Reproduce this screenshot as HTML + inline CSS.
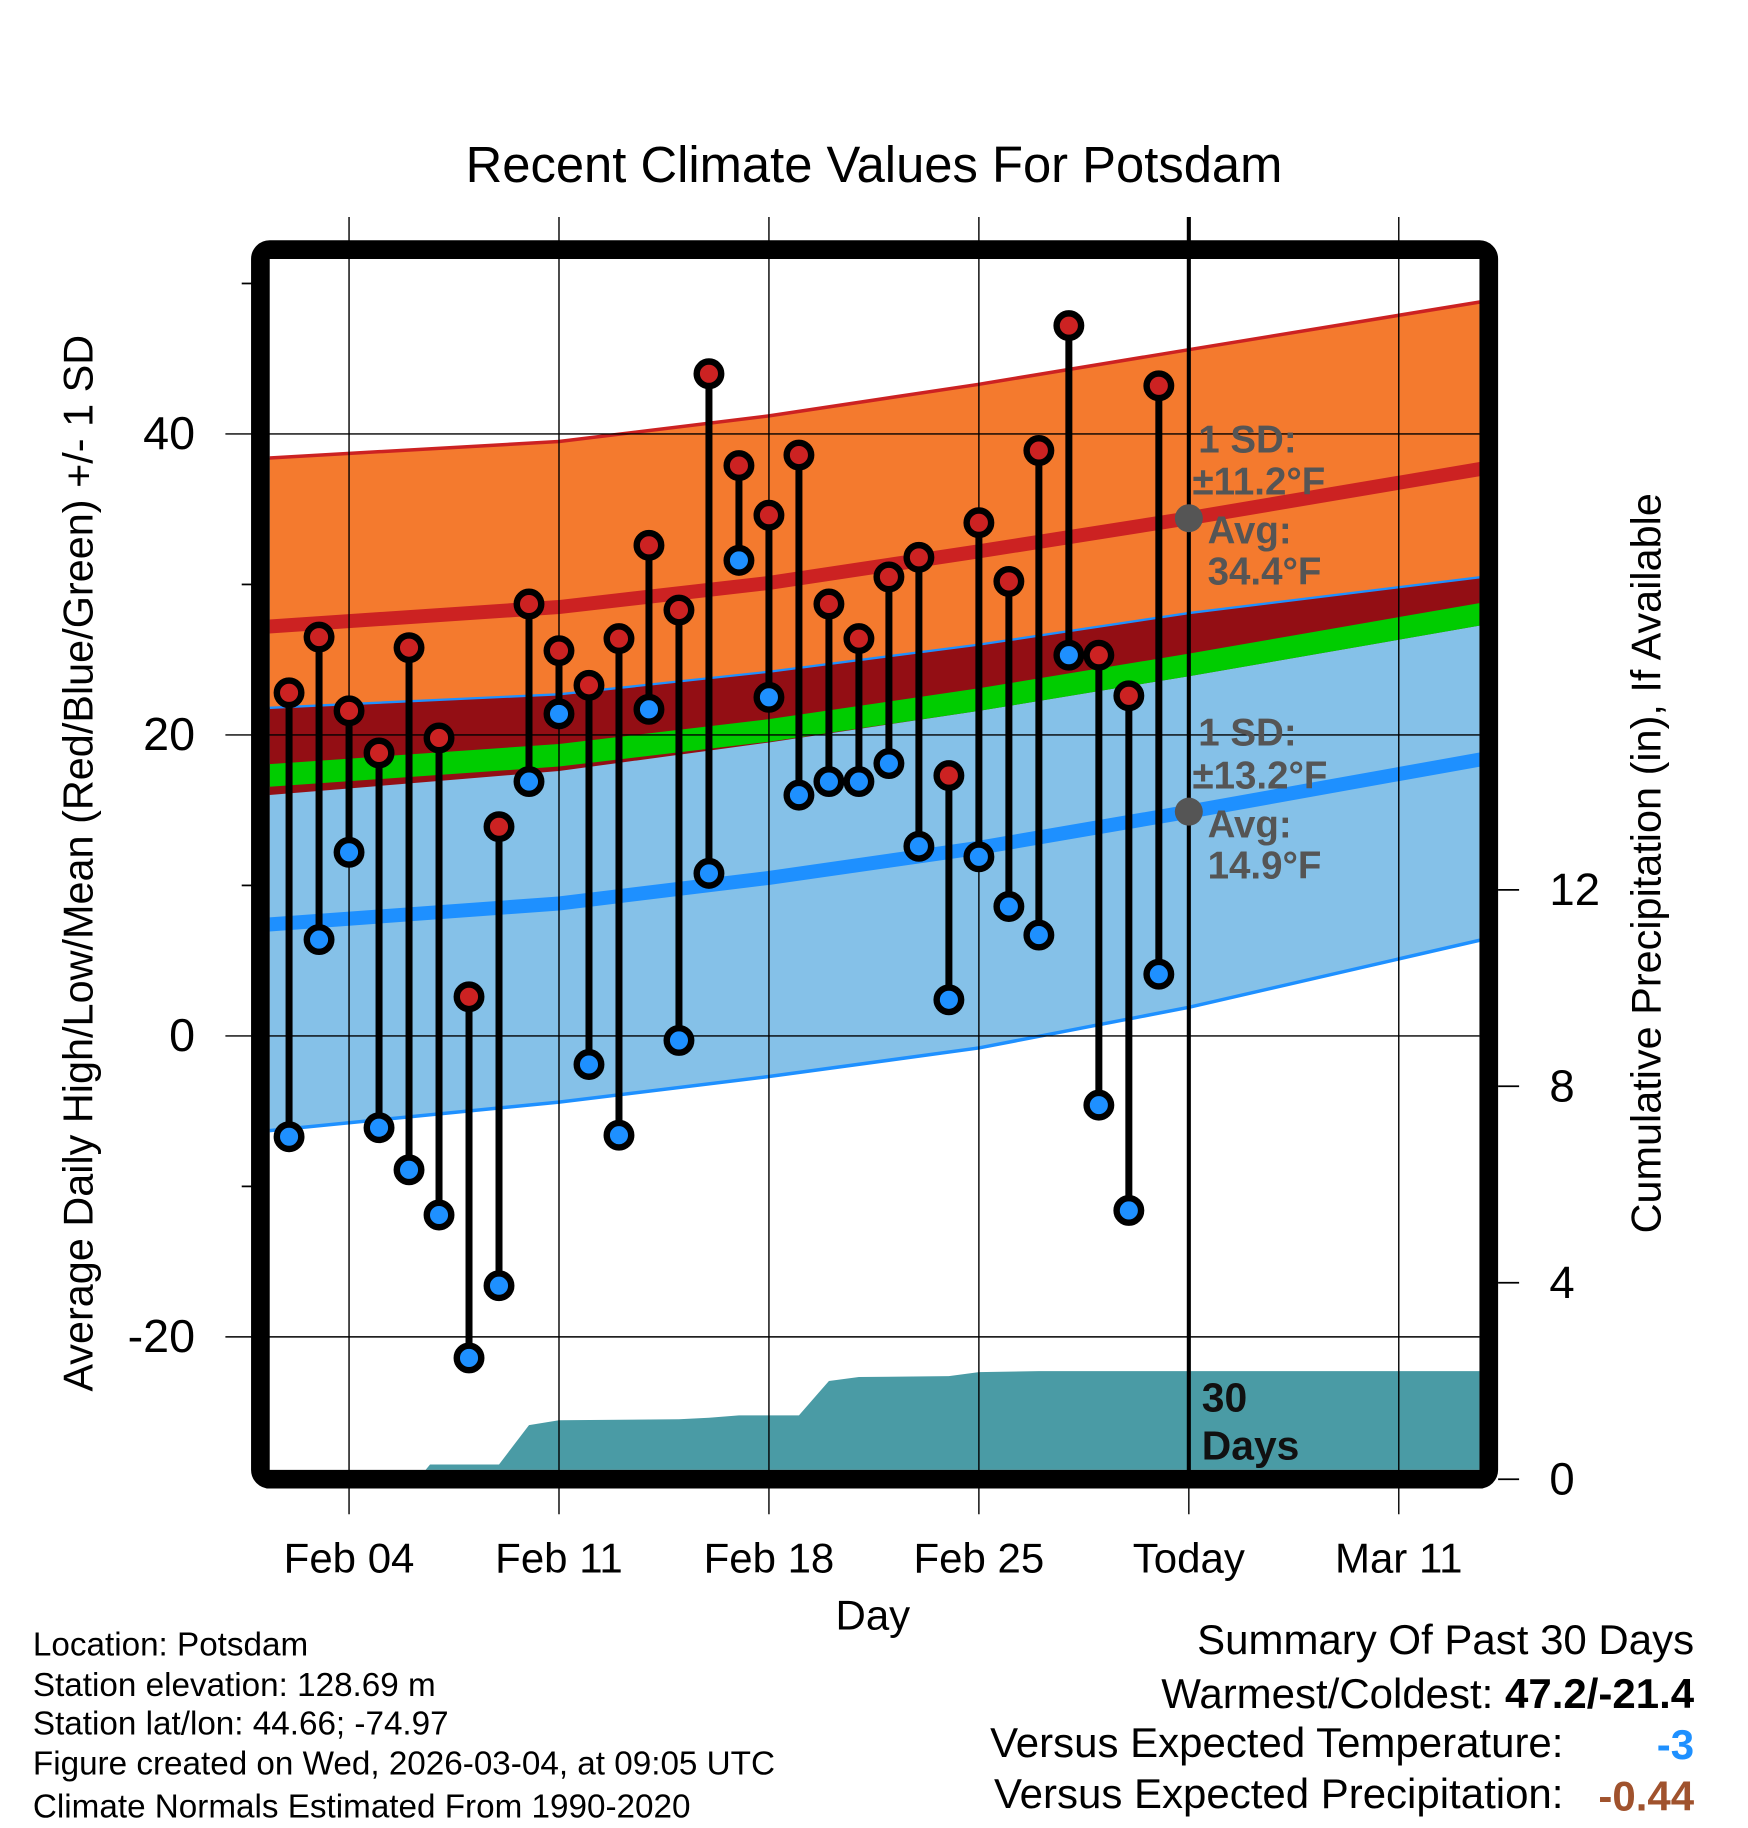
<!DOCTYPE html>
<html><head><meta charset="utf-8"><style>
html,body{margin:0;padding:0;background:#fff}
svg{display:block}
text{font-family:"Liberation Sans",sans-serif}
</style></head><body>
<svg id="chart" width="1748" height="1828" viewBox="0 0 1498 1567" xmlns="http://www.w3.org/2000/svg">
<defs><clipPath id="plotclip"><rect x="231" y="222" width="1037" height="1038"/></clipPath></defs>
<text x="749" y="156" font-size="43.5" text-anchor="middle">Recent Climate Values For Potsdam</text>
<g id="plot" clip-path="url(#plotclip)"></g>
<g id="grid"></g>
<g id="marks" clip-path="url(#plotclip)"></g>
<rect x="223" y="214" width="1053" height="1054" rx="8" fill="none" stroke="#000" stroke-width="16"/>
<g id="axes"></g>
<text transform="translate(79,740) rotate(-90)" font-size="35.5" text-anchor="middle">Average Daily High/Low/Mean (Red/Blue/Green) +/- 1 SD</text>
<text transform="translate(1423,740) rotate(-90)" font-size="35.5" text-anchor="middle">Cumulative Precipitation (in), If Available</text>
<text x="748" y="1397" font-size="36" text-anchor="middle">Day</text>
<g font-size="28.5">
<text x="28" y="1419">Location: Potsdam</text>
<text x="28" y="1454">Station elevation: 128.69 m</text>
<text x="28" y="1487">Station lat/lon: 44.66; -74.97</text>
<text x="28" y="1521">Figure created on Wed, 2026-03-04, at 09:05 UTC</text>
<text x="28" y="1558">Climate Normals Estimated From 1990-2020</text>
</g>
<g font-size="36">
<text x="1452" y="1418" text-anchor="end">Summary Of Past 30 Days</text>
<text x="1452" y="1464" text-anchor="end">Warmest/Coldest: <tspan font-weight="bold">47.2/-21.4</tspan></text>
<text x="1340" y="1506" text-anchor="end">Versus Expected Temperature:</text>
<text x="1452" y="1508" text-anchor="end" font-weight="bold" fill="#1E90FF">-3</text>
<text x="1340" y="1550" text-anchor="end">Versus Expected Precipitation:</text>
<text x="1452" y="1552" text-anchor="end" font-weight="bold" fill="#A0522D">-0.44</text>
</g>
<script>
const normDays=[-2.7,7,14,21,28,37.8];
const hiUp=[38.4,39.5,41.2,43.3,45.6,48.8];
const hiMean=[27.2,28.5,30.1,32.2,34.4,37.7];
const hiLow=[16.0,17.6,19.5,21.6,23.9,27.3];
const loUp=[21.8,22.7,24.2,26.0,28.1,30.5];
const loMean=[7.4,8.8,10.5,12.5,14.9,18.4];
const loLow=[-6.3,-4.4,-2.7,-0.8,1.9,6.4];
const obsDays=[-2,-1,0,1,2,3,4,5,6,7,8,9,10,11,12,13,14,15,16,17,18,19,20,21,22,23,24,25,26,27];
const highs=[22.8,26.5,21.6,18.8,25.8,19.8,2.6,13.9,28.7,25.6,23.3,26.4,32.6,28.3,44.0,37.9,34.6,38.6,28.7,26.4,30.5,31.8,17.3,34.1,30.2,38.9,47.2,25.3,22.6,43.2];
const lows=[-6.7,6.4,12.2,-6.1,-8.9,-11.9,-21.4,-16.6,16.9,21.4,-1.9,-6.6,21.7,-0.3,10.8,31.6,22.5,16.0,16.9,16.9,18.1,12.6,2.4,11.9,8.6,6.7,25.3,-4.6,-11.6,4.1];
const precipDays=[-2.7,2.3,2.7,5,6,7,11,12,13,15,16,17,20,21,23,37.8];
const precip=[0,0,0.3,0.3,1.1,1.2,1.22,1.25,1.3,1.3,2.0,2.08,2.1,2.18,2.2,2.2];
const xTickDays=[0,7,14,21,28,35];
const xTickLabels=["Feb 04","Feb 11","Feb 18","Feb 25","Today","Mar 11"];
const yTicks=[40,20,0,-20];
const yMinor=[50,30,10,-10];
const y2Ticks=[0,4,8,12];
const todayDay=28;
const NS="http://www.w3.org/2000/svg";
const X=d=>299+d*25.71;
const Y=t=>888-t*12.9;
const Y2=p=>1268-p*42.1;
function mk(tag,attrs,parent){const e=document.createElementNS(NS,tag);for(const k in attrs)e.setAttribute(k,attrs[k]);parent.appendChild(e);return e;}
function band(up,lo,fill,name,parent){
  let pts=normDays.map((d,i)=>X(d)+","+Y(up[i]));
  for(let i=normDays.length-1;i>=0;i--)pts.push(X(normDays[i])+","+Y(lo[i]));
  const p=mk('polygon',{points:pts.join(' '),fill:fill},parent);
  
  
}
function line(vals,stroke,w,name,parent){
  const p=mk('polyline',{points:normDays.map((d,i)=>X(d)+","+Y(vals[i])).join(' '),fill:'none',stroke:stroke,'stroke-width':w},parent);
  
  
}
const plot=document.getElementById('plot');
band(hiUp,hiLow,'#F47A2E','high-sd-band',plot);
band(loUp,loLow,'#85C1E8','low-sd-band',plot);
band(loUp,hiLow,'#930E14','overlap-band',plot);
const meanV=hiMean.map((h,i)=>(h+loMean[i])/2);
band(meanV.map(v=>v+0.75),meanV.map(v=>v-0.75),'#00CC00','mean-band',plot);
line(hiUp,'#CC2222',3,'high-upper-sd-line',plot);
line(loUp,'#1E90FF',2,'low-upper-sd-line',plot);
line(loLow,'#1E90FF',3,'low-lower-sd-line',plot);
line(hiMean,'#CC2222',12,'high-mean-line',plot);
line(loMean,'#1E90FF',12,'low-mean-line',plot);
let pp=precipDays.map((d,i)=>X(d)+","+Y2(precip[i]));
pp.push(X(37.8)+",1262",X(-2.7)+",1262");
const pa=mk('polygon',{points:pp.join(' '),fill:'#4A9BA5'},plot);


const grid=document.getElementById('grid');
xTickDays.forEach(d=>{
  const l=mk('line',{x1:X(d),x2:X(d),y1:186,y2:1298,stroke:'#000','stroke-width':1.2},grid);
  
  
});
yTicks.forEach(t=>{
  const l=mk('line',{x1:193,x2:1268,y1:Y(t),y2:Y(t),stroke:'#000','stroke-width':1.2},grid);
  
  
});
const tl=mk('line',{x1:X(todayDay),x2:X(todayDay),y1:186,y2:1262,stroke:'#000','stroke-width':3.5},grid);


const marks=document.getElementById('marks');
obsDays.forEach((d,i)=>{
  const s=mk('line',{x1:X(d),x2:X(d),y1:Y(highs[i]),y2:Y(lows[i]),stroke:'#000','stroke-width':6},marks);
  
  
  const lc=mk('circle',{cx:X(d),cy:Y(lows[i]),r:10.5,fill:'#1E90FF',stroke:'#000','stroke-width':5.5},marks);
  
  
  const hc=mk('circle',{cx:X(d),cy:Y(highs[i]),r:10.5,fill:'#CC2222',stroke:'#000','stroke-width':5.5},marks);
  
  
});
[hiMean[4],loMean[4]].forEach(v=>{
  const c=mk('circle',{cx:X(todayDay),cy:Y(v),r:12,fill:'#555'},marks);
  
  
});
function txt(s,x,y,attrs,parent,name){const t=mk('text',Object.assign({x:x,y:y},attrs),parent);t.textContent=s;return t;}
const ann={fill:'#555','font-size':33,'font-weight':'bold'};
txt('1 SD:',1027,388,ann,marks,'high-sd-label');
txt('±11.2°F',1022,424,ann,marks,'high-sd-value');
txt('Avg:',1035,466,ann,marks,'high-avg-label');
txt('34.4°F',1035,501,ann,marks,'high-avg-value');
txt('1 SD:',1027,639,ann,marks,'low-sd-label');
txt('±13.2°F',1022,676,ann,marks,'low-sd-value');
txt('Avg:',1035,718,ann,marks,'low-avg-label');
txt('14.9°F',1035,753,ann,marks,'low-avg-value');
txt('30',1030,1210,{fill:'#111','font-size':35,'font-weight':'bold'},marks,'days-label-30');
txt('Days',1030,1251,{fill:'#111','font-size':35,'font-weight':'bold'},marks,'days-label');
const axes=document.getElementById('axes');
yTicks.forEach(t=>txt(String(t),167,Y(t)+13,{'font-size':40,'text-anchor':'end'},axes,'y-tick-label'));
yMinor.forEach(t=>{const l=mk('line',{x1:207,x2:216,y1:Y(t),y2:Y(t),stroke:'#000','stroke-width':1.5},axes);});
y2Ticks.forEach(p=>{
  const l=mk('line',{x1:1284,x2:1302,y1:Y2(p),y2:Y2(p),stroke:'#000','stroke-width':1.5},axes);
  
  
  txt(String(p),1328,Y2(p)+13,{'font-size':39},axes,'y2-tick-label');
});
xTickDays.forEach((d,i)=>txt(xTickLabels[i],X(d),1348,{'font-size':36,'text-anchor':'middle'},axes,'x-tick-label'));
</script>
</svg>
</body></html>
